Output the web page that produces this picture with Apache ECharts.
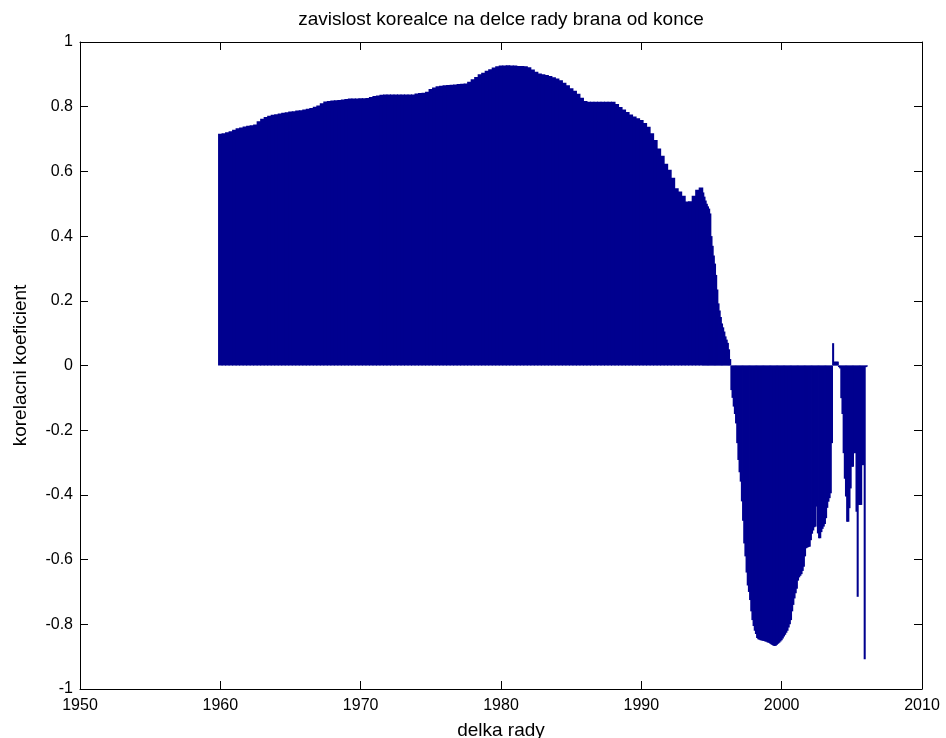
<!DOCTYPE html>
<html><head><meta charset="utf-8">
<script src="https://cdn.jsdelivr.net/npm/echarts@6/dist/echarts.min.js"></script>
<style>html,body{margin:0;padding:0;background:#fff}#c{width:946px;height:738px}</style>
</head><body><div id="c"></div>
<script>
const titleText = 'zavislost korealce na delce rady brana od konce';
const xName = 'delka rady';
const yName = 'korelacni koeficient';

// quarterly part of the series: 1960.00 .. 1994.25
const coarseStart = 1960;
const coarseStep = 0.25;
const coarseValues = [
  0.716,0.718,0.721,0.724, 0.729,0.733,0.736,0.739, 0.741,0.743,0.745,0.755,
  0.763,0.768,0.772,0.775, 0.777,0.779,0.781,0.783, 0.785,0.786,0.788,0.789,
  0.791,0.794,0.796,0.800, 0.804,0.811,0.816,0.818, 0.819,0.820,0.821,0.822,
  0.824,0.825,0.825,0.825, 0.826,0.826,0.827,0.830, 0.833,0.835,0.837,0.838,
  0.838,0.838,0.838,0.838, 0.838,0.838,0.838,0.838, 0.841,0.842,0.843,0.846,
  0.855,0.859,0.863,0.865, 0.866,0.867,0.868,0.869, 0.870,0.871,0.872,0.877,
  0.885,0.892,0.900,0.905, 0.911,0.916,0.921,0.925, 0.927,0.927,0.928,0.927,
  0.927,0.926,0.926,0.925, 0.922,0.915,0.908,0.903, 0.900,0.898,0.895,0.891,
  0.887,0.882,0.874,0.866, 0.857,0.849,0.840,0.828, 0.818,0.815,0.815,0.815,
  0.815,0.815,0.815,0.815, 0.815,0.808,0.799,0.791, 0.784,0.776,0.770,0.764,
  0.759,0.750,0.738,0.718, 0.697,0.671,0.648,0.624, 0.605,0.580,0.548,0.538,
  0.525,0.507,0.508,0.525, 0.543,0.550
];

// monthly part of the series: from 1994 + 5/12 onwards
const fineStart = 1994 + 5 / 12;
const fineStep = 1 / 12;
const fineValues = [
  0.535,0.522,0.510,0.500,0.492,0.485,0.470,0.400,0.370,0.340,0.315,0.280,
  0.235,0.192,0.170,0.150,0.130,0.118,0.105,0.090,0.080,0.070,0.050,0.020,
  -0.076,-0.100,-0.127,-0.150,-0.179,-0.240,-0.292,-0.330,-0.359,-0.420,-0.480,-0.550,
  -0.590,-0.640,-0.680,-0.700,-0.725,-0.760,-0.787,-0.805,-0.820,-0.830,-0.842,-0.846,
  -0.848,-0.849,-0.850,-0.851,-0.852,-0.853,-0.854,-0.856,-0.857,-0.859,-0.862,-0.864,
  -0.866,-0.867,-0.866,-0.863,-0.860,-0.857,-0.853,-0.849,-0.844,-0.838,-0.832,-0.826,
  -0.820,-0.810,-0.800,-0.787,-0.760,-0.740,-0.720,-0.704,-0.690,-0.665,-0.655,-0.650,
  -0.645,-0.635,-0.622,-0.590,-0.565,-0.563,-0.561,-0.560,-0.540,-0.520,-0.510,-0.500,
  -0.498,-0.436,-0.519,-0.534,-0.534,-0.515,-0.505,-0.498,-0.490,-0.472,-0.440,-0.421,
  -0.410,-0.395,-0.240,0.069,0.012,0.012,0.012,0.012,-0.005,-0.009,-0.101,-0.150,
  -0.271,-0.350,-0.405,-0.483,-0.483,-0.441,-0.380,-0.313,-0.313,-0.271,-0.271,-0.452,
  -0.715,-0.431,-0.431,-0.431,-0.308,-0.308,-0.908,-0.005,-0.003
];

const xMin = 1950, xMax = 2010, xInterval = 10;
const yMin = -1, yMax = 1, yInterval = 0.2;

const coarseData = coarseValues.map((v, i) => [coarseStart + i * coarseStep, v]);
const fineData = fineValues.map((v, i) => [fineStart + i * fineStep, v]);

const FONT = 'Liberation Sans, Arial, sans-serif';
const barColor = 'rgb(0,0,143)';

const G = { left: 80, right: 24, top: 42, bottom: 49 };
const W = 946, H = 738;

function xAx(pos, show) {
  return {
    type: 'value', position: pos, min: xMin, max: xMax, interval: xInterval,
    splitLine: { show: false },
    axisLine: { show: true, onZero: false, lineStyle: { color: '#000', width: 1 } },
    axisTick: { show: true, inside: true, length: 8, lineStyle: { color: '#000' } },
    axisLabel: { show: show, color: '#000', fontFamily: FONT, fontSize: 16, margin: 9,
      formatter: v => String(v) },
    name: show ? xName : '', nameLocation: 'middle', nameGap: 32,
    nameTextStyle: { color: '#000', fontFamily: FONT, fontSize: 19, verticalAlign: 'top' }
  };
}
function yAx(pos, show) {
  return {
    type: 'value', position: pos, min: yMin, max: yMax, interval: yInterval,
    splitLine: { show: false },
    axisLine: { show: true, onZero: false, lineStyle: { color: '#000', width: 1 } },
    axisTick: { show: true, inside: true, length: 8, lineStyle: { color: '#000' } },
    axisLabel: { show: show, color: '#000', fontFamily: FONT, fontSize: 16, margin: 7 },
    name: show ? yName : '', nameLocation: 'middle', nameGap: 50, nameRotate: 90,
    nameTextStyle: { color: '#000', fontFamily: FONT, fontSize: 19 }
  };
}

const chart = echarts.init(document.getElementById('c'), null, { renderer: 'canvas' });
chart.setOption({
  animation: false,
  backgroundColor: '#fff',
  graphic: [{
    type: 'text', x: G.left + (W - G.left - G.right) / 2, y: 10,
    style: { text: titleText, fill: '#000', font: '19px ' + FONT, textAlign: 'center', textVerticalAlign: 'top' }
  }],
  grid: { left: G.left, right: G.right, top: G.top, bottom: G.bottom,
    containLabel: false, outerBoundsMode: 'none' },
  xAxis: [xAx('bottom', true), xAx('top', false)],
  yAxis: [yAx('left', true), yAx('right', false)],
  series: [
    { type: 'bar', xAxisIndex: 0, yAxisIndex: 0, data: coarseData, barWidth: '130%',
      itemStyle: { color: barColor }, silent: true },
    { type: 'bar', xAxisIndex: 1, yAxisIndex: 0, data: fineData, barWidth: '175%',
      itemStyle: { color: barColor }, silent: true }
  ]
});
</script></body></html>
